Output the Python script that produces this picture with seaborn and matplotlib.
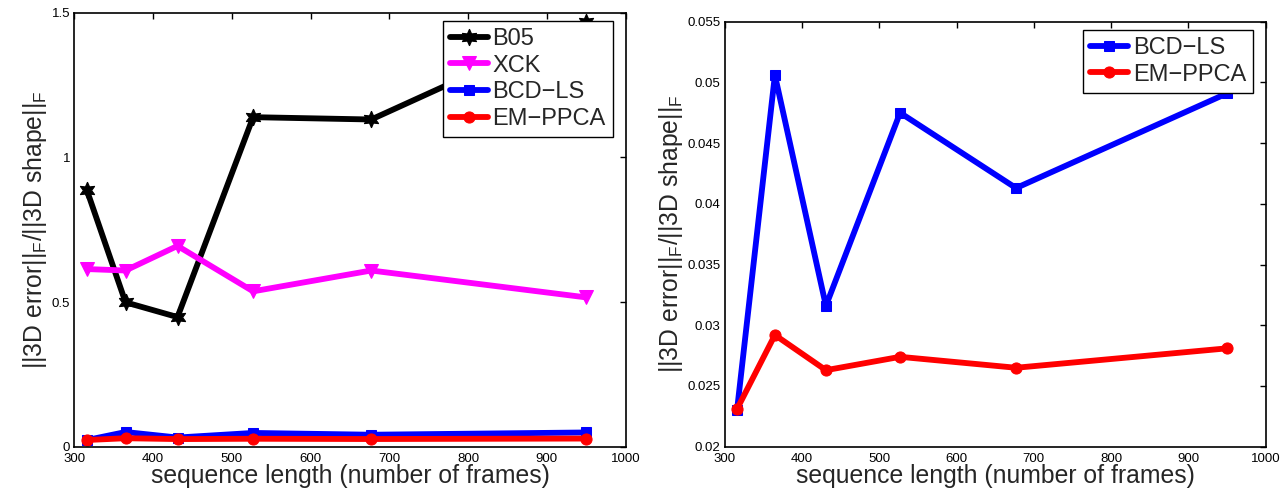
import matplotlib
matplotlib.use("Agg")
import matplotlib.pyplot as plt
import seaborn as sns
import pandas as pd

# ---- data ----
seq_length = [316, 365, 431, 527, 677, 950]
b05 = [0.886, 0.499, 0.448, 1.139, 1.131, 1.469]
xck = [0.614, 0.609, 0.694, 0.537, 0.609, 0.516]
bcd_ls = [0.0230, 0.0506, 0.0316, 0.0475, 0.0413, 0.0491]
em_ppca = [0.0231, 0.0292, 0.0263, 0.0274, 0.0265, 0.0281]

series_names = ["B05", "XCK", "BCD\u2212LS", "EM\u2212PPCA"]
series_vals = [b05, xck, bcd_ls, em_ppca]
colors = ["#000000", "#FF00FF", "#0000FF", "#FF0000"]
markers = [(6, 1, 0), "v", "s", "o"]
msizes = [12, 9.5, 7.5, 8]

left_yticks = [0, 0.5, 1, 1.5]
right_yticks = [0.02, 0.025, 0.03, 0.035, 0.04, 0.045, 0.05, 0.055]
xticks = [300, 400, 500, 600, 700, 800, 900, 1000]

sns.set_theme(style="white")
plt.rcParams["font.family"] = ["Liberation Sans", "DejaVu Sans"]
plt.rcParams["mathtext.fontset"] = "custom"
plt.rcParams["mathtext.rm"] = "Liberation Sans"
plt.rcParams["mathtext.it"] = "Liberation Sans"
plt.rcParams["mathtext.bf"] = "Liberation Sans"

df = pd.DataFrame({
    "length": seq_length * 4,
    "err": sum(series_vals, []),
    "method": sum([[n] * len(seq_length) for n in series_names], []),
})

fig = plt.figure(figsize=(12.86, 4.90), dpi=100)
axL = fig.add_axes([0.0578, 0.0884, 0.4287, 0.8856])
axR = fig.add_axes([0.5635, 0.0884, 0.4207, 0.8673])

def draw(ax, idxs):
    for i in idxs:
        sub = df[df["method"] == series_names[i]]
        sns.lineplot(data=sub, x="length", y="err", ax=ax, color=colors[i],
                     marker=markers[i], markersize=msizes[i],
                     markeredgecolor=colors[i], markerfacecolor=colors[i],
                     linewidth=4.2, label=series_names[i], sort=False,
                     errorbar=None)

draw(axL, [0, 1, 2, 3])
draw(axR, [2, 3])

ylabel = "||3D error||$_\\mathrm{F}$/||3D shape||$_\\mathrm{F}$"
for ax, yt in [(axL, left_yticks), (axR, right_yticks)]:
    ax.set_xlim(300, 1000)
    ax.set_xticks(xticks)
    ax.set_xticklabels([str(t) for t in xticks])
    ax.set_yticks(yt)
    ax.set_yticklabels([("%g" % t) for t in yt])
    ax.set_ylim(yt[0], yt[-1])
    ax.tick_params(direction="in", length=4, width=1, top=True, right=True,
                   labelsize=9.5, colors="black")
    ax.tick_params(axis="x", pad=4.5)
    ax.tick_params(axis="y", pad=3)
    for s in ax.spines.values():
        s.set_color("black")
        s.set_linewidth(1.2)
        s.set_visible(True)
    ax.set_xlabel("sequence length (number of frames)", fontsize=17.8, labelpad=-1)
    ax.set_ylabel(ylabel, fontsize=17.8, labelpad=2)
    ax.grid(False)
    bb = ax.get_window_extent()
    leg = ax.legend(loc="upper right", fontsize=17, frameon=True, fancybox=False,
                    edgecolor="black", framealpha=1, handlelength=1.6,
                    handletextpad=0.2, borderpad=0.3, labelspacing=0.2,
                    borderaxespad=0,
                    bbox_to_anchor=(1 - 12.7 / bb.width, 1 - 8 / bb.height))
    leg.get_frame().set_linewidth(1.0)

fig.savefig("out.png", dpi=100)
